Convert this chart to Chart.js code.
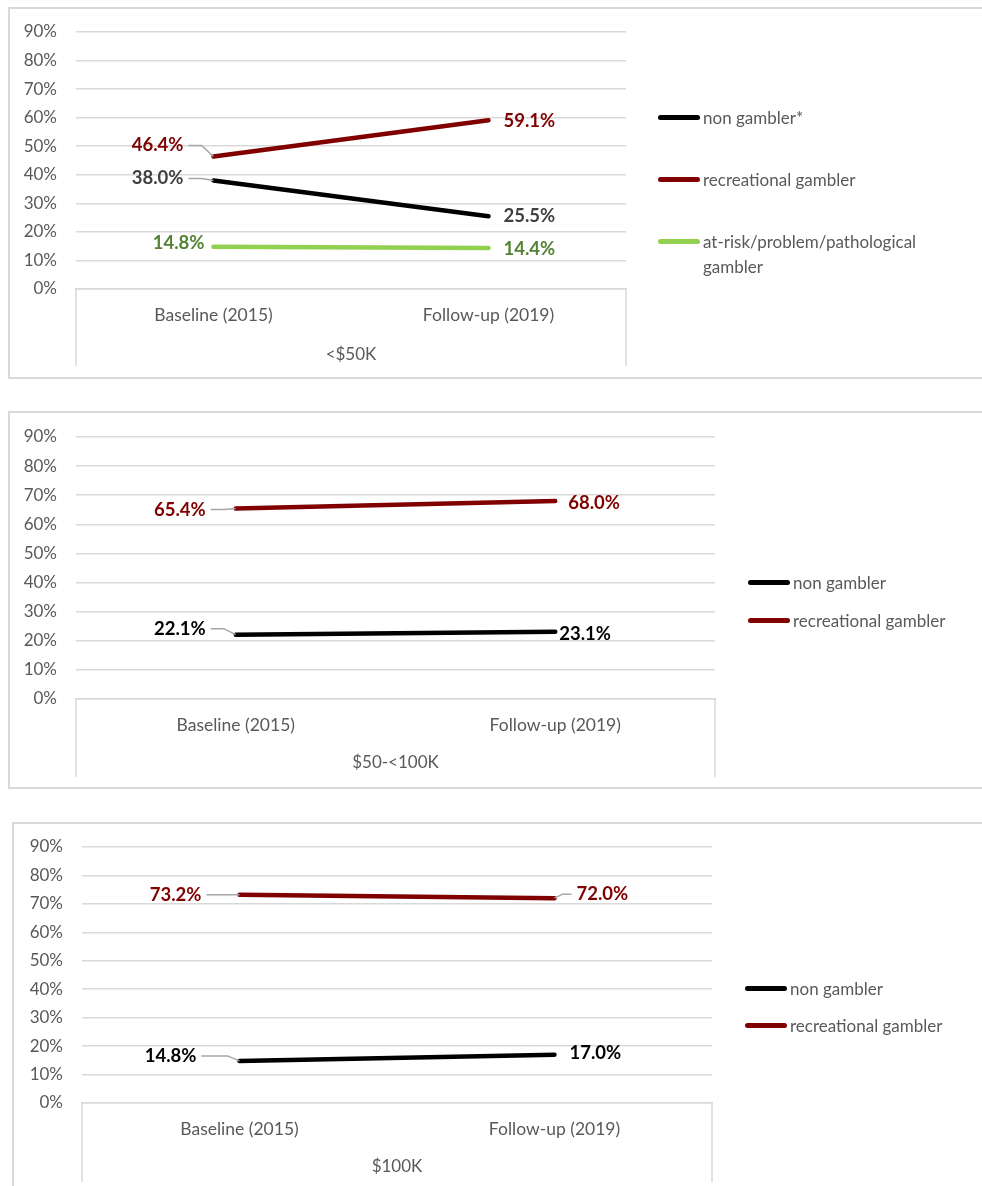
<!DOCTYPE html>
<html>
<head>
<meta charset="utf-8">
<script src="https://cdn.jsdelivr.net/npm/chart.js@4.4.1/dist/chart.umd.min.js"></script>
<style>
  body { margin: 0; width: 982px; height: 1186px; overflow: hidden; background: #fff; font-family: Lato, sans-serif; }
  .frame { position: absolute; border: 2px solid #d9d9d9; box-sizing: border-box; width: 1000px; }
  canvas { position: absolute; left: 0; }
  .legend { position: absolute; color: #595959; font-size: 17px; line-height: 25px; }
  .legend .item { position: absolute; left: 0; display: flex; align-items: flex-start; width: 320px; }
  .legend .swatch { flex: none; width: 42px; height: 5px; border-radius: 3px; margin: 10px 3px 0 0; }
</style>
</head>
<body>

<div class="frame" style="left:8px; top:7px; height:372px;"></div>
<div class="frame" style="left:8px; top:411px; height:378px;"></div>
<div class="frame" style="left:12px; top:822px; height:400px;"></div>

<canvas id="lowIncome" width="982" height="380" style="top:0px"></canvas>
<canvas id="midIncome" width="982" height="400" style="top:400px"></canvas>
<canvas id="highIncome" width="982" height="376" style="top:810px"></canvas>

<div class="legend" id="lowLegend"></div>
<div class="legend" id="midLegend"></div>
<div class="legend" id="highLegend"></div>

<script>
// survey waves and income groups
const periods = ['Baseline (2015)', 'Follow-up (2019)'];
const incomeGroups = ['<$50K', '$50-<100K', '$100K'];
const yMax = 90;
const yStep = 10;

// percent of respondents in each gambling group
const nonGamblerLow = [38.0, 25.5];
const recreationalLow = [46.4, 59.1];
const atRiskLow = [14.8, 14.4];

const nonGamblerMid = [22.1, 23.1];
const recreationalMid = [65.4, 68.0];

const nonGamblerHigh = [14.8, 17.0];
const recreationalHigh = [73.2, 72.0];

const FONT = 'Lato, sans-serif';
const GRID = '#d9d9d9';
const TEXT = '#595959';

// draws the percent labels next to each point, with a small leader where the label sits off the line
const valueLabels = {
  id: 'valueLabels',
  afterDatasetsDraw(chart, args, opts) {
    const ctx = chart.ctx;
    ctx.save();
    ctx.font = 'bold 18.5px ' + FONT;
    ctx.textBaseline = 'middle';
    chart.data.datasets.forEach((ds, i) => {
      const meta = chart.getDatasetMeta(i);
      meta.data.forEach((pt, j) => {
        const p = opts.places[i][j];
        const x = pt.x + p.dx;
        const y = pt.y + p.dy;
        if (p.leader) {
          ctx.strokeStyle = '#a6a6a6';
          ctx.lineWidth = 1.5;
          ctx.beginPath();
          if (p.side === 'left') {
            ctx.moveTo(x + 5, y);
            ctx.lineTo(pt.x - 12, y);
          } else {
            ctx.moveTo(x - 5, y);
            ctx.lineTo(pt.x + 8, y);
          }
          ctx.lineTo(pt.x, pt.y);
          ctx.stroke();
        }
        ctx.fillStyle = ds.labelColor;
        ctx.textAlign = p.side === 'left' ? 'right' : 'left';
        ctx.fillText(ds.data[j].toFixed(1) + '%', x, y);
      });
    });
    ctx.restore();
  }
};

// vertical edges of the category box under the plot
const categoryBox = {
  id: 'categoryBox',
  afterDraw(chart) {
    const x = chart.scales.x;
    const ctx = chart.ctx;
    ctx.save();
    ctx.strokeStyle = GRID;
    ctx.lineWidth = 1.5;
    ctx.beginPath();
    ctx.moveTo(x.left, chart.chartArea.bottom);
    ctx.lineTo(x.left, x.bottom);
    ctx.moveTo(x.right, chart.chartArea.bottom);
    ctx.lineTo(x.right, x.bottom);
    ctx.stroke();
    ctx.restore();
  }
};

function series(label, data, color, labelColor) {
  return {
    label: label,
    data: data,
    borderColor: color,
    backgroundColor: color,
    labelColor: labelColor,
    borderWidth: 4.5,
    borderCapStyle: 'round',
    pointRadius: 0,
    tension: 0
  };
}

function buildLegend(chart, el, left, centers) {
  el.style.left = left + 'px';
  chart.data.datasets.forEach((ds, i) => {
    const item = document.createElement('div');
    item.className = 'item';
    item.style.top = (centers[i] - 12.5) + 'px';
    const sw = document.createElement('span');
    sw.className = 'swatch';
    sw.style.background = ds.borderColor;
    const txt = document.createElement('span');
    txt.textContent = ds.label;
    item.appendChild(sw);
    item.appendChild(txt);
    el.appendChild(item);
  });
}

function makePanel(p) {
  const chart = new Chart(document.getElementById(p.canvas), {
    type: 'line',
    data: { labels: periods, datasets: p.datasets },
    options: {
      responsive: false,
      animation: false,
      layout: { padding: p.padding },
      plugins: {
        legend: { display: false },
        tooltip: { enabled: false },
        valueLabels: { places: p.places }
      },
      scales: {
        x: {
          offset: true,
          grid: { display: false, drawTicks: false },
          border: { color: GRID, width: 1.5 },
          ticks: { color: TEXT, font: { family: FONT, size: 17.5 }, padding: 16 },
          title: { display: true, text: p.group, color: TEXT, font: { family: FONT, size: 17 }, padding: { top: 0, bottom: p.titleGap } },
          afterFit: s => { s.height = p.axisHeight; }
        },
        y: {
          min: 0,
          max: yMax,
          ticks: { stepSize: yStep, color: TEXT, font: { family: FONT, size: 17 }, padding: 19, callback: v => v + '%' },
          grid: { color: GRID, lineWidth: 1.5, drawTicks: false },
          border: { display: false },
          afterFit: s => { s.width = 60; }
        }
      }
    },
    plugins: [valueLabels, categoryBox]
  });
  buildLegend(chart, document.getElementById(p.legend), p.legendLeft, p.legendCenters);
}

makePanel({
  canvas: 'lowIncome', legend: 'lowLegend', group: incomeGroups[0],
  padding: { left: 16, right: 356, top: 32, bottom: 14 },
  axisHeight: 77, titleGap: 1,
  datasets: [
    series('non gambler*', nonGamblerLow, '#000000', '#404040'),
    series('recreational gambler', recreationalLow, '#800000', '#800000'),
    series('at-risk/problem/pathological gambler', atRiskLow, '#92d050', '#548235')
  ],
  places: [
    [{ dx: -30, dy: -2, side: 'left', leader: true }, { dx: 15, dy: 0, side: 'right' }],
    [{ dx: -30, dy: -11, side: 'left', leader: true }, { dx: 15, dy: 1, side: 'right' }],
    [{ dx: -9, dy: -4, side: 'left' }, { dx: 15, dy: 1, side: 'right' }]
  ],
  legendLeft: 658, legendCenters: [117, 179, 241]
});

makePanel({
  canvas: 'midIncome', legend: 'midLegend', group: incomeGroups[1],
  padding: { left: 16, right: 267, top: 37, bottom: 23 },
  axisHeight: 78, titleGap: 4,
  datasets: [
    series('non gambler', nonGamblerMid, '#000000', '#000000'),
    series('recreational gambler', recreationalMid, '#800000', '#800000')
  ],
  places: [
    [{ dx: -30, dy: -6, side: 'left', leader: true }, { dx: 4, dy: 2, side: 'right' }],
    [{ dx: -30, dy: 1, side: 'left', leader: true }, { dx: 13, dy: 2, side: 'right' }]
  ],
  legendLeft: 748, legendCenters: [582, 620]
});

makePanel({
  canvas: 'highIncome', legend: 'highLegend', group: incomeGroups[2],
  padding: { left: 22, right: 270, top: 37, bottom: 4 },
  axisHeight: 79, titleGap: 5,
  datasets: [
    series('non gambler', nonGamblerHigh, '#000000', '#000000'),
    series('recreational gambler', recreationalHigh, '#800000', '#800000')
  ],
  places: [
    [{ dx: -43, dy: -5, side: 'left', leader: true }, { dx: 15, dy: -2, side: 'right' }],
    [{ dx: -38, dy: 0, side: 'left', leader: true }, { dx: 22, dy: -4, side: 'right', leader: true }]
  ],
  legendLeft: 745, legendCenters: [988, 1025]
});
</script>
</body>
</html>
